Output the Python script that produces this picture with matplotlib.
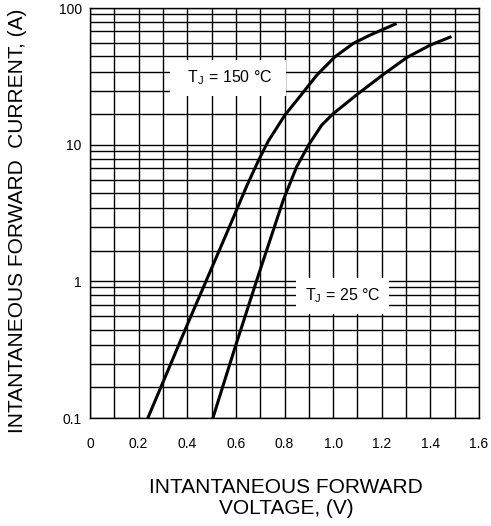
import matplotlib
matplotlib.use("Agg")
import matplotlib.pyplot as plt
from matplotlib.ticker import FixedLocator, NullFormatter

plt.rcParams['font.family'] = ['Liberation Sans', 'DejaVu Sans']
plt.rcParams['mathtext.default'] = 'regular'

# forward voltage (V) / current (A)
v_150 = [0.240, 0.404, 0.569, 0.645, 0.692, 0.733, 0.802, 0.864, 0.933, 1.008,
         1.083, 1.152, 1.255]
i_150 = [0.102, 0.500, 2.40, 5.00, 7.60, 10.6, 16.5, 22.6, 32.3, 44.0,
         55.1, 63.4, 76.2]

v_25 = [0.507, 0.597, 0.692, 0.795, 0.850, 0.900, 0.953, 1.001, 1.100, 1.207,
        1.303, 1.399, 1.481]
i_25 = [0.102, 0.330, 1.10, 3.93, 6.89, 10.0, 13.9, 16.9, 23.4, 32.7,
        43.4, 53.5, 61.2]

x_ticks = [0, 0.2, 0.4, 0.6, 0.8, 1.0, 1.2, 1.4, 1.6]
x_labels = ['0', '0.2', '0.4', '0.6', '0.8', '1.0', '1.2', '1.4', '1.6']
y_ticks = [0.1, 1, 10, 100]
y_labels = ['0.1', '1', '10', '100']

# grid line spacing inside each decade, as printed on the sheet (log fractions)
grid_frac = [0.225, 0.395, 0.534, 0.647, 0.744, 0.829, 0.898, 0.957]

fig = plt.figure(figsize=(4.91, 5.26), dpi=100)
ax = fig.add_axes([90 / 491, 1 - 418 / 526, 389 / 491, 410 / 526])

ax.set_yscale('log')
ax.set_xlim(0, 1.6)
ax.set_ylim(0.1, 100)

minor_y = [d * 10 ** f for d in [0.1, 1, 10] for f in grid_frac]
ax.yaxis.set_major_locator(FixedLocator(y_ticks))
ax.yaxis.set_minor_locator(FixedLocator(minor_y))
ax.yaxis.set_minor_formatter(NullFormatter())
ax.set_yticks(y_ticks)
ax.set_yticklabels(y_labels)
ax.set_xticks(x_ticks)
ax.set_xticklabels(x_labels)
ax.set_xticks([k / 10 for k in range(17)], minor=True)

ax.grid(True, which='both', color='black', linewidth=1.0)
ax.tick_params(which='both', length=0)
ax.tick_params(axis='x', pad=14, labelsize=10)
ax.tick_params(axis='y', pad=6, labelsize=10)
for s in ax.spines.values():
    s.set_linewidth(1.0)

ax.plot(v_150, i_150, color='black', linewidth=2.2, zorder=3)
ax.plot(v_25, i_25, color='black', linewidth=2.2, zorder=3)

box = dict(facecolor='white', edgecolor='none', pad=6)
ax.text(0.568, 30.7, '  T$_J$ = 150 °C  ', fontsize=11.5, ha='center', va='center',
        bbox=box, zorder=4)
ax.text(1.039, 0.78, 'T$_J$ = 25 °C', fontsize=11.5, ha='center', va='center',
        bbox=box, zorder=4)

fig.text(286 / 491, 1 - 498 / 526, 'INTANTANEOUS FORWARD\nVOLTAGE, (V)', fontsize=15,
         ha='center', va='center', linespacing=1.15)
fig.text(18 / 491, 1 - 221 / 526, 'INTANTANEOUS FORWARD  CURRENT, (A)', fontsize=15,
         ha='center', va='center', rotation=90)

fig.savefig('out.png', dpi=100)
